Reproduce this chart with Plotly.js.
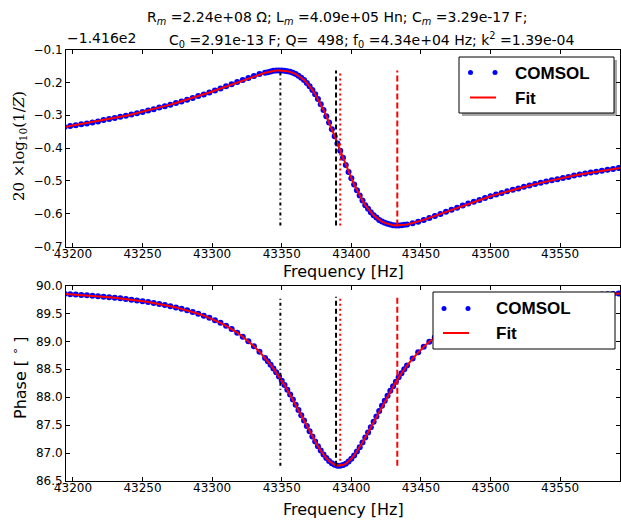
<!DOCTYPE html>
<html><head><meta charset="utf-8">
<script src="https://cdn.plot.ly/plotly-3.0.1.min.js"></script>
<style>html,body{margin:0;padding:0;background:#fff;} #chart{width:621px;height:521px;}</style>
</head><body><div id="chart"></div>
<script>
// ---------------- data ----------------
const freq = [
43194,43198,43202,43206,43210,43214,43218,43222,43226,43230,43234,43238,43242,43246,43250,43254,43258,43262,43266,43270,
43274,43278,43282,43286,43290,43294,43298,43302,43306,43310,43314,43318,43322,43326,43330,43334,43338,
43340,43342,43344,43346,43348,43350,43352,43354,43356,43358,43360,43362,43364,43366,43368,43370,43372,43374,43376,43378,
43380,43382,43384,43386,43388,43390,43392,43394,43396,43398,43400,43402,43404,43406,43408,43410,43412,43414,43416,43418,
43420,43422,43424,43426,43428,43430,43432,43434,43436,43438,43440,
43444,43448,43452,43456,43460,43464,43468,43472,43476,43480,43484,43488,43492,43496,43500,43504,43508,43512,43516,43520,
43524,43528,43532,43536,43540,43544,43548,43552,43556,43560,43564,43568,43572,43576,43580,43584,43588,43592,43594];

// 20*log10(1/Z) shown relative to the axis offset -1.416e2
const comsolMag = [
-0.336,-0.333,-0.331,-0.328,-0.325,-0.322,-0.319,-0.315,-0.312,-0.309,-0.305,-0.302,-0.298,-0.294,-0.290,-0.286,-0.282,-0.277,-0.273,-0.268,
-0.263,-0.258,-0.253,-0.248,-0.242,-0.237,-0.231,-0.225,-0.219,-0.212,-0.206,-0.199,-0.193,-0.187,-0.181,-0.175,-0.171,
-0.169,-0.167,-0.165,-0.164,-0.164,-0.164,-0.165,-0.166,-0.168,-0.171,-0.175,-0.180,-0.186,-0.193,-0.202,-0.212,-0.223,-0.236,-0.251,-0.267,
-0.284,-0.303,-0.322,-0.343,-0.364,-0.386,-0.408,-0.430,-0.452,-0.473,-0.492,-0.511,-0.529,-0.545,-0.560,-0.574,-0.585,-0.596,-0.605,-0.612,
-0.619,-0.624,-0.628,-0.631,-0.633,-0.635,-0.636,-0.636,-0.635,-0.634,-0.633,
-0.629,-0.625,-0.619,-0.613,-0.607,-0.601,-0.594,-0.588,-0.582,-0.575,-0.569,-0.564,-0.558,-0.552,-0.547,-0.542,-0.537,-0.532,-0.527,-0.523,
-0.518,-0.514,-0.510,-0.506,-0.502,-0.498,-0.495,-0.491,-0.488,-0.484,-0.481,-0.478,-0.475,-0.472,-0.469,-0.466,-0.464,-0.461,-0.460];

const comsolPhase = [
89.850,89.844,89.837,89.831,89.824,89.816,89.808,89.799,89.790,89.780,89.770,89.758,89.746,89.733,89.719,89.704,89.688,89.670,89.651,89.630,
89.608,89.583,89.557,89.527,89.495,89.460,89.421,89.378,89.331,89.278,89.220,89.156,89.084,89.004,88.914,88.815,88.704,
88.644,88.581,88.515,88.446,88.373,88.296,88.217,88.133,88.047,87.958,87.867,87.773,87.678,87.582,87.486,87.391,87.298,87.208,87.123,87.044,
86.973,86.910,86.858,86.817,86.789,86.774,86.773,86.785,86.810,86.848,86.897,86.958,87.027,87.104,87.188,87.277,87.369,87.464,87.560,87.656,
87.752,87.846,87.938,88.027,88.114,88.198,88.278,88.356,88.429,88.500,88.567,
88.691,88.803,88.904,88.994,89.075,89.148,89.213,89.272,89.325,89.373,89.416,89.456,89.491,89.524,89.553,89.580,89.605,89.628,89.649,89.668,
89.686,89.702,89.718,89.732,89.745,89.757,89.768,89.779,89.789,89.798,89.807,89.815,89.823,89.830,89.837,89.843,89.849,89.855,89.857];

const fitMag = comsolMag;
const fitPhase = comsolPhase;

const vlineFreqs = [43349, 43389, 43392, 43433];
const magSpan = [-0.636, -0.164];
const phaseSpan = [86.774, 89.80];

const freqTicks = [43200,43250,43300,43350,43400,43450,43500,43550];
const magTicks = [-0.7,-0.6,-0.5,-0.4,-0.3,-0.2,-0.1];
const phaseTicks = [86.5,87.0,87.5,88.0,88.5,89.0,89.5,90.0];
const phaseTickText = ['86.5','87.0','87.5','88.0','88.5','89.0','89.5','90.0'];
const xRange = [43195, 43593];

// ---------------- styles ----------------
const W = 621, H = 521;
const px = x => x / W;
const py = y => 1 - y / H;
const vStyles = [
  {color:'black', dash:'3px,3px,1px,3px'},
  {color:'black', dash:'5px,3px'},
  {color:'red',   dash:'2px,3px'},
  {color:'red',   dash:'6px,3px'}
];
const tickFont = {family:'DejaVu Sans', size:12, color:'black'};

const traces = [];
function addPanel(xa, ya, yData, fitData, span) {
  traces.push({x:freq, y:yData, xaxis:xa, yaxis:ya, type:'scatter', mode:'markers',
    marker:{color:'rgb(0,0,255)', size:6, line:{width:0}}, showlegend:false, hoverinfo:'skip'});
  traces.push({x:freq, y:fitData, xaxis:xa, yaxis:ya, type:'scatter', mode:'lines',
    line:{color:'rgb(255,0,0)', width:2}, showlegend:false, hoverinfo:'skip'});
  vlineFreqs.forEach((f, i) => {
    traces.push({x:[f, f], y:span, xaxis:xa, yaxis:ya, type:'scatter', mode:'lines',
      line:{color:vStyles[i].color, width:2, dash:vStyles[i].dash}, showlegend:false, hoverinfo:'skip'});
  });
}
addPanel('x', 'y', comsolMag, fitMag, magSpan);
addPanel('x2', 'y2', comsolPhase, fitPhase, phaseSpan);

const axisCommon = {showline:true, linecolor:'black', linewidth:1, mirror:'ticks',
  ticks:'inside', ticklen:4, tickwidth:1, tickcolor:'black', showgrid:false, zeroline:false,
  tickfont:tickFont};
const xDomain = [px(66), px(620)];

const layout = {
  width:W, height:H, margin:{l:0, r:0, t:0, b:0},
  paper_bgcolor:'white', plot_bgcolor:'white', showlegend:false,
  xaxis: Object.assign({}, axisCommon, {domain:xDomain, range:xRange, anchor:'y',
    tickvals:freqTicks, ticktext:freqTicks.map(String), ticklabelstandoff:-4}),
  yaxis: Object.assign({}, axisCommon, {domain:[py(246.5), py(49.5)], range:[-0.7, -0.1], anchor:'x',
    tickvals:magTicks}),
  xaxis2: Object.assign({}, axisCommon, {domain:xDomain, range:xRange, anchor:'y2',
    tickvals:freqTicks, ticktext:freqTicks.map(String), ticklabelstandoff:-4}),
  yaxis2: Object.assign({}, axisCommon, {domain:[py(481), py(285.5)], range:[86.5, 90.0], anchor:'x2',
    tickvals:phaseTicks, ticktext:phaseTickText}),
  shapes: [
    // top legend (with shadow)
    {type:'rect', xref:'paper', yref:'paper', x0:px(462), x1:px(617), y0:py(60), y1:py(116),
      fillcolor:'rgba(0,0,0,0.35)', line:{width:0}, layer:'above'},
    {type:'rect', xref:'paper', yref:'paper', x0:px(459), x1:px(614), y0:py(57), y1:py(113),
      fillcolor:'white', line:{color:'black', width:1}, layer:'above'},
    {type:'circle', xref:'paper', yref:'paper', x0:px(468), x1:px(473), y0:py(70), y1:py(75),
      fillcolor:'blue', line:{width:0}, layer:'above'},
    {type:'circle', xref:'paper', yref:'paper', x0:px(492.5), x1:px(497.5), y0:py(70), y1:py(75),
      fillcolor:'blue', line:{width:0}, layer:'above'},
    {type:'line', xref:'paper', yref:'paper', x0:px(470), x1:px(496), y0:py(97.5), y1:py(97.5),
      line:{color:'red', width:2}, layer:'above'},
    // bottom legend
    {type:'rect', xref:'paper', yref:'paper', x0:px(433), x1:px(615), y0:py(292), y1:py(349),
      fillcolor:'white', line:{color:'black', width:1}, layer:'above'},
    {type:'circle', xref:'paper', yref:'paper', x0:px(441.5), x1:px(446.5), y0:py(306), y1:py(311),
      fillcolor:'blue', line:{width:0}, layer:'above'},
    {type:'circle', xref:'paper', yref:'paper', x0:px(465.5), x1:px(470.5), y0:py(306), y1:py(311),
      fillcolor:'blue', line:{width:0}, layer:'above'},
    {type:'line', xref:'paper', yref:'paper', x0:px(443), x1:px(469), y0:py(333), y1:py(333),
      line:{color:'red', width:2}, layer:'above'}
  ],
  annotations: [
    {xref:'paper', yref:'paper', x:px(145), y:py(18), xanchor:'left', yanchor:'middle', showarrow:false,
      text:'R<sub><i>m</i></sub> =2.24e+08 Ω; L<sub><i>m</i></sub> =4.09e+05 Hn; C<sub><i>m</i></sub> =3.29e-17 F;',
      font:{family:'DejaVu Sans', size:14, color:'black'}},
    {xref:'paper', yref:'paper', x:px(167), y:py(40), xanchor:'left', yanchor:'middle', showarrow:false,
      text:'C<sub>0</sub> =2.91e-13 F; Q=\u00a0 498; f<sub>0</sub> =4.34e+04 Hz; k<sup>2</sup> =1.39e-04',
      font:{family:'DejaVu Sans', size:14, color:'black'}},
    {xref:'paper', yref:'paper', x:px(65), y:py(38), xanchor:'left', yanchor:'middle', showarrow:false,
      text:'\u22121.416e2', font:{family:'DejaVu Sans', size:14, color:'black'}},
    {xref:'paper', yref:'paper', x:px(19), y:py(146), xanchor:'center', yanchor:'middle', showarrow:false,
      textangle:-90, text:'20 ×log<sub>10</sub>(1/<i>Z</i>)',
      font:{family:'DejaVu Serif', size:15, color:'black'}},
    {xref:'paper', yref:'paper', x:px(19), y:py(378), xanchor:'center', yanchor:'middle', showarrow:false,
      textangle:-90, text:'Phase [ <sup>∘</sup> ]',
      font:{family:'DejaVu Sans', size:16, color:'black'}},
    {xref:'paper', yref:'paper', x:px(343), y:py(271), xanchor:'center', yanchor:'middle', showarrow:false,
      text:'Frequency [Hz]', font:{family:'DejaVu Sans', size:16, color:'black'}},
    {xref:'paper', yref:'paper', x:px(343), y:py(509), xanchor:'center', yanchor:'middle', showarrow:false,
      text:'Frequency [Hz]', font:{family:'DejaVu Sans', size:16, color:'black'}},
    {xref:'paper', yref:'paper', x:px(513), y:py(73), xanchor:'left', yanchor:'middle', showarrow:false,
      text:'<b>COMSOL</b>', font:{family:'Liberation Sans', size:17, color:'black'}},
    {xref:'paper', yref:'paper', x:px(513), y:py(98), xanchor:'left', yanchor:'middle', showarrow:false,
      text:'<b>Fit</b>', font:{family:'Liberation Sans', size:17, color:'black'}},
    {xref:'paper', yref:'paper', x:px(494), y:py(308.5), xanchor:'left', yanchor:'middle', showarrow:false,
      text:'<b>COMSOL</b>', font:{family:'Liberation Sans', size:17, color:'black'}},
    {xref:'paper', yref:'paper', x:px(494), y:py(333), xanchor:'left', yanchor:'middle', showarrow:false,
      text:'<b>Fit</b>', font:{family:'Liberation Sans', size:17, color:'black'}}
  ]
};

Plotly.newPlot('chart', traces, layout, {staticPlot:true, displayModeBar:false});
</script>
</body></html>
